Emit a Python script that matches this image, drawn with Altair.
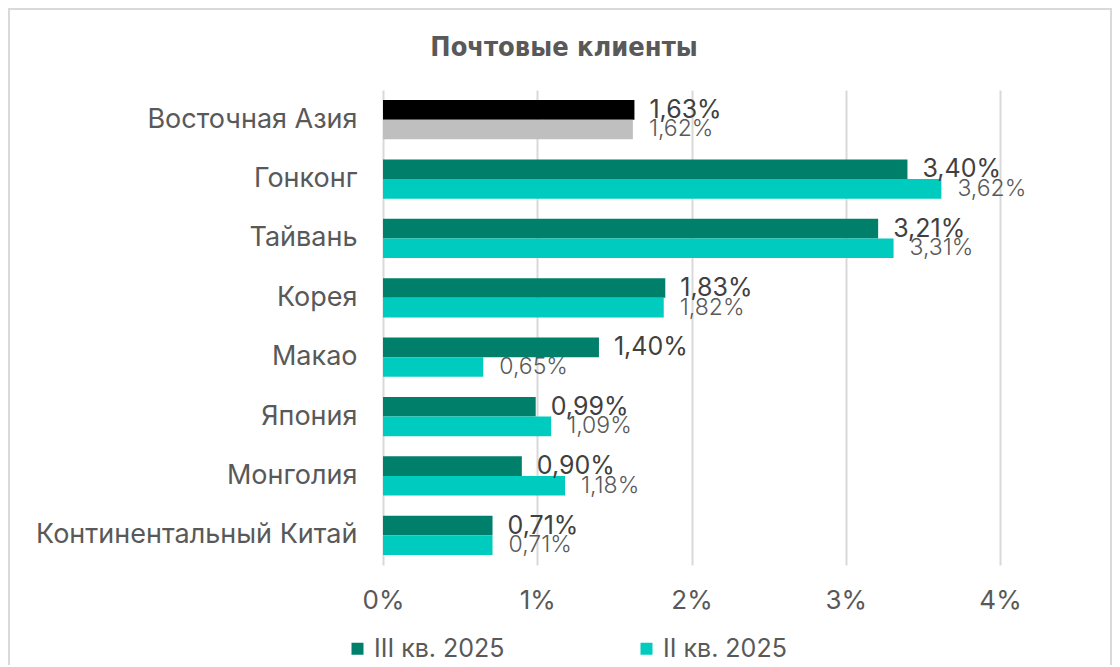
import altair as alt
import pandas as pd

regions = ["Восточная Азия", "Гонконг", "Тайвань", "Корея", "Макао",
           "Япония", "Монголия", "Континентальный Китай"]
q3 = [1.63, 3.40, 3.21, 1.83, 1.40, 0.99, 0.90, 0.71]
q2 = [1.62, 3.62, 3.31, 1.82, 0.65, 1.09, 1.18, 0.71]
series = ["III кв. 2025", "II кв. 2025"]
x_ticks = [0, 1, 2, 3, 4]
title_text = "Почтовые клиенты"

rows = []
for r, a, b in zip(regions, q3, q2):
    for s, v in zip(series, (a, b)):
        key = s if r != "Восточная Азия" else ("ВА " + s)
        rows.append({"region": r, "series": s, "value": v, "key": key,
                     "label": f"{v:.2f}".replace(".", ",") + "%"})
df = pd.DataFrame(rows)

FONT = "Inter"
color_domain = ["III кв. 2025", "II кв. 2025", "ВА III кв. 2025", "ВА II кв. 2025"]
color_range = ["#007F6A", "#00CBBF", "#000000", "#BFBFBF"]

y_enc = alt.Y("region:N", sort=regions, title=None,
              scale=alt.Scale(paddingInner=0.34, paddingOuter=0.17),
              axis=alt.Axis(domain=False, ticks=False, labelFontSize=27,
                            labelColor="#595959", labelPadding=26,
                            labelFont=FONT, labelLimit=400))
x_enc = alt.X("value:Q", title=None,
              scale=alt.Scale(domain=[0, 4], nice=False),
              axis=alt.Axis(values=x_ticks, labelExpr="datum.value + '%'",
                            domain=False, ticks=False, labelFontSize=26,
                            labelColor="#595959", labelPadding=22,
                            labelFlush=False,
                            labelFont=FONT, gridColor="#D9D9D9",
                            gridWidth=2))
yoff = alt.YOffset("series:N", sort=series)

base = alt.Chart(df)

bars = base.mark_bar().encode(
    y=y_enc, x=x_enc, yOffset=yoff,
    color=alt.Color("key:N",
                    scale=alt.Scale(domain=color_domain, range=color_range),
                    legend=alt.Legend(values=series, title=None, orient="none",
                                      legendX=-38, legendY=546,
                                      direction="horizontal",
                                      symbolType="square", symbolSize=144,
                                      symbolStrokeWidth=0,
                                      labelFontSize=25, labelColor="#595959",
                                      labelFont=FONT, columnPadding=129,
                                      labelOffset=4, labelLimit=300)),
)

lab3 = base.transform_filter(alt.datum.series == series[0]).mark_text(
    align="left", baseline="middle", dx=15, fontSize=25,
    color="#404040", font=FONT
).encode(y=alt.Y("region:N", sort=regions), x="value:Q", yOffset=yoff,
         text="label:N")

lab2 = base.transform_filter(alt.datum.series == series[1]).mark_text(
    align="left", baseline="middle", dx=16, fontSize=23, fontWeight=300,
    color="#595959", font=FONT
).encode(y=alt.Y("region:N", sort=regions), x="value:Q", yOffset=yoff,
         text="label:N")

border = alt.Chart(pd.DataFrame({"a": [0]})).mark_rect(
    fill=None, stroke="#D9D9D9", strokeWidth=2
).encode(x=alt.value(-374), x2=alt.value(728), y=alt.value(-81), y2=alt.value(620))

title = alt.Chart(pd.DataFrame({"t": [title_text]})).mark_text(
    align="center", baseline="middle", fontSize=27, fontWeight="bold",
    color="#595959",
    font="Liberation Sans Narrow, DejaVu Sans Condensed, Roboto Condensed, sans-serif"
).encode(x=alt.value(181), y=alt.value(-42), text="t:N")

chart = alt.layer(border, bars, lab3, lab2, title).properties(
    width=617, height=475,
    padding={"left": 375, "top": 82, "right": 112, "bottom": 100},
    autosize=alt.AutoSizeParams(type="none"),
).configure_view(stroke=None).configure_axis(labelFont=FONT)

chart.save("out.html", embed_options={"renderer": "svg", "actions": False})
